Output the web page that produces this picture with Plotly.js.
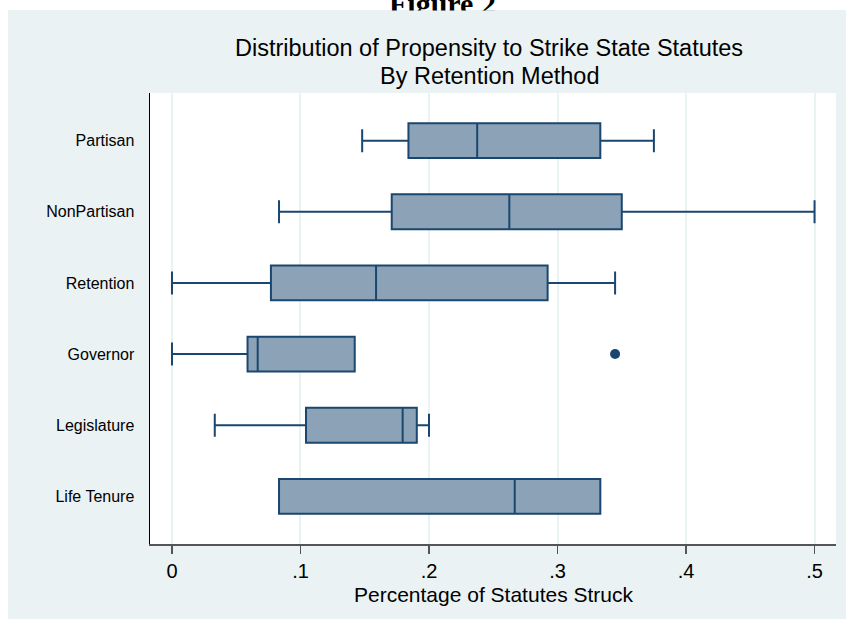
<!DOCTYPE html>
<html>
<head>
<meta charset="utf-8">
<script src="https://cdn.plot.ly/plotly-3.0.1.min.js"></script>
<style>html,body{margin:0;padding:0;background:#fff;}#chart{width:846px;height:619px;}</style>
</head>
<body>
<div id="chart"></div>
<script>
// Data
var categories = ["Partisan", "NonPartisan", "Retention", "Governor", "Legislature", "Life Tenure"];
var lowerFence = [0.148, 0.0833, 0.0, 0.0, 0.0333, 0.0833];
var q1Values   = [0.184, 0.171, 0.077, 0.0588, 0.1043, 0.0833];
var medians    = [0.2375, 0.2625, 0.1588, 0.0667, 0.1795, 0.2667];
var q3Values   = [0.3333, 0.35, 0.2923, 0.1422, 0.1905, 0.3333];
var upperFence = [0.375, 0.5, 0.3448, 0.1422, 0.2, 0.3333];
var outlierCategories = ["Governor"];
var outlierValues = [0.3448];
var xTickVals = [0, 0.1, 0.2, 0.3, 0.4, 0.5];
var xTickText = ["0", ".1", ".2", ".3", ".4", ".5"];

var navy = "#1a476f";
var bg = "#eaf2f3";

var traces = [
  {
    type: "box",
    orientation: "h",
    y: categories,
    q1: q1Values,
    median: medians,
    q3: q3Values,
    lowerfence: lowerFence,
    upperfence: upperFence,
    boxpoints: false,
    width: 0.49,
    whiskerwidth: 0.66,
    fillcolor: "#8ca3b7",
    line: {color: navy, width: 2},
    hoverinfo: "skip",
    showlegend: false
  },
  {
    type: "scatter",
    mode: "markers",
    x: outlierValues,
    y: outlierCategories,
    marker: {color: navy, size: 10},
    hoverinfo: "skip",
    showlegend: false
  }
];

// pixel helpers for paper coordinates (plot area x 150-836, y 93-544)
function px(p) { return (p - 150) / 686; }
function py(p) { return (544 - p) / 451; }

var layout = {
  width: 846,
  height: 619,
  margin: {l: 150, r: 10, t: 93, b: 75, pad: 0},
  paper_bgcolor: bg,
  plot_bgcolor: "#ffffff",
  font: {family: "Liberation Sans, Arial, sans-serif", color: "#000"},
  xaxis: {
    range: [-0.0171, 0.5167],
    tickvals: xTickVals,
    ticktext: xTickText,
    ticks: "outside",
    ticklen: 8,
    tickwidth: 1.5,
    tickcolor: "#555",
    tickfont: {size: 20, color: "#000"},
    showgrid: true,
    gridcolor: bg,
    gridwidth: 2,
    zeroline: false,
    showline: true,
    linecolor: "#555",
    linewidth: 1.5,
    fixedrange: true
  },
  yaxis: {
    type: "category",
    categoryorder: "array",
    categoryarray: categories,
    range: [5.67, -0.67],
    ticks: "",
    ticklabelstandoff: 11,
    tickfont: {size: 16, color: "#000"},
    showgrid: false,
    zeroline: false,
    showline: true,
    linecolor: "#000",
    linewidth: 1.5,
    fixedrange: true
  },
  shapes: [
    {type: "rect", xref: "paper", yref: "paper", x0: px(0), x1: px(846), y0: py(10), y1: py(0), fillcolor: "#ffffff", line: {width: 0}, layer: "below"},
    {type: "rect", xref: "paper", yref: "paper", x0: px(0), x1: px(8), y0: py(619), y1: py(0), fillcolor: "#ffffff", line: {width: 0}, layer: "below"}
  ],
  annotations: [
    {text: "Figure 2", xref: "paper", yref: "paper", x: px(442), y: py(22), xanchor: "center", yanchor: "bottom", showarrow: false, font: {family: "Liberation Serif, Times New Roman, serif", size: 30, color: "#000", weight: "bold"}},
    {text: " ", xref: "paper", yref: "paper", x: px(442), y: py(10), xanchor: "center", yanchor: "top", width: 160, height: 16, bgcolor: bg, borderpad: 0, showarrow: false, font: {size: 10}},
    {text: "Distribution of Propensity to Strike State Statutes", xref: "paper", yref: "paper", x: px(489), y: py(48), xanchor: "center", yanchor: "middle", showarrow: false, font: {size: 23.5, color: "#000"}},
    {text: "By Retention Method", xref: "paper", yref: "paper", x: px(489), y: py(75.5), xanchor: "center", yanchor: "middle", showarrow: false, font: {size: 23.5, color: "#000"}},
    {text: "Percentage of Statutes Struck", xref: "paper", yref: "paper", x: px(493), y: py(594), xanchor: "center", yanchor: "middle", showarrow: false, font: {size: 21, color: "#000"}}
  ]
};

Plotly.newPlot("chart", traces, layout, {displayModeBar: false, staticPlot: true});
</script>
</body>
</html>
